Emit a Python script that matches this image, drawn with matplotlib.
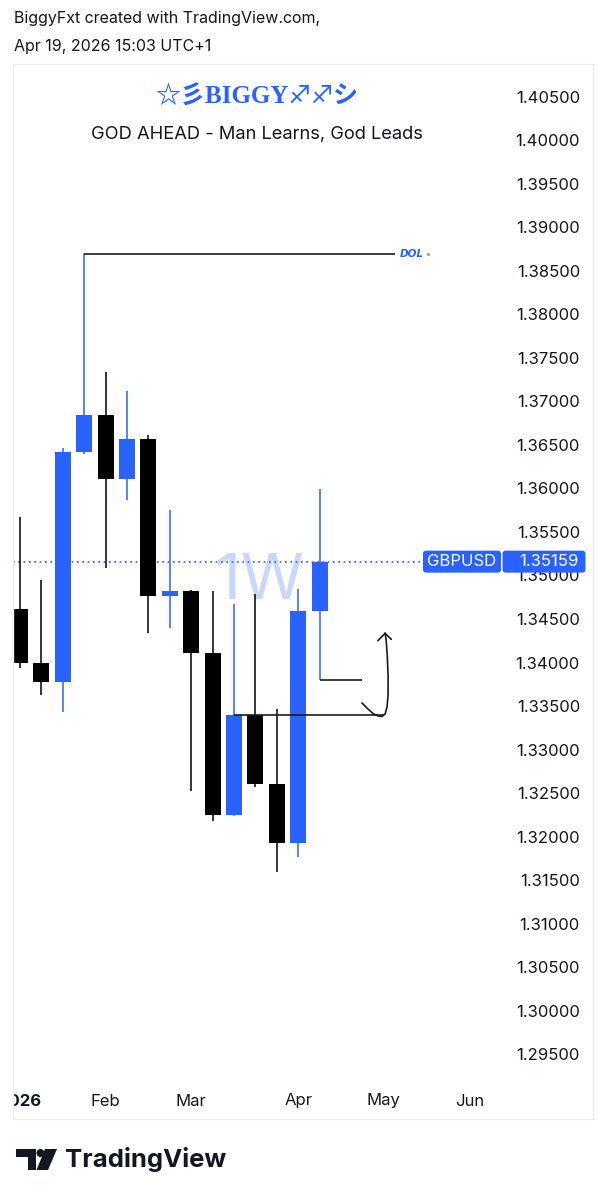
import matplotlib
matplotlib.use('Agg')
import matplotlib.pyplot as plt
import numpy as np
import pandas as pd
from matplotlib.patches import Rectangle, Circle, Polygon, FancyBboxPatch
from matplotlib.transforms import Affine2D, Bbox, TransformedBbox, blended_transform_factory

W, H, DPI = 606, 1200, 100

# GBPUSD weekly candles (week starting Monday)
week_start = pd.date_range('2026-01-05', periods=15, freq='7D')
opens = [1.34612, 1.33992, 1.33774, 1.36418, 1.36846, 1.36111, 1.36564, 1.34768,
         1.34825, 1.34107, 1.32246, 1.33398, 1.32602, 1.31925, 1.34596]
highs = [1.35675, 1.34948, 1.36460, 1.38692, 1.37333, 1.37122, 1.36617, 1.35752,
         1.34830, 1.34825, 1.34673, 1.34787, 1.33464, 1.34841, 1.35993]
lows = [1.33934, 1.33628, 1.33429, 1.36400, 1.35090, 1.35867, 1.34336, 1.34394,
        1.32529, 1.32184, 1.32240, 1.32568, 1.31592, 1.31764, 1.33800]
closes = [1.33992, 1.33774, 1.36415, 1.36846, 1.36111, 1.36567, 1.34768, 1.34825,
          1.34113, 1.32246, 1.33398, 1.32602, 1.31925, 1.34596, 1.35159]
last_price = 1.35159

# price scale
price_ticks = np.round(np.arange(1.295, 1.4051, 0.005), 3)

# drawings (bar index, price)
dol_level, dol_from, dol_to = 1.38692, 3, 17.5
level_a, level_a_from, level_a_to = 1.33398, 10, 17.0
level_b, level_b_from, level_b_to = 1.33800, 14, 16.0
arrow_x = [15.98, 16.26, 16.50, 16.73, 16.92, 17.06, 17.15, 17.20, 17.20, 17.16, 17.11, 17.06]
arrow_y = [1.33536, 1.33467, 1.33415, 1.33387, 1.33381, 1.33410, 1.33490, 1.33628,
           1.33857, 1.34087, 1.34259, 1.34340]
arrow_head_x = [16.72, 17.06, 17.35]
arrow_head_y = [1.34251, 1.34336, 1.34267]

BLUE = '#2962ff'
TXT = '#131722'
FONT = ['Inter', 'DejaVu Sans']

fig = plt.figure(figsize=(W / DPI, H / DPI), dpi=DPI)
fig.patch.set_facecolor('white')

# pixel transform with origin at top-left
pix = Affine2D().scale(1 / DPI, -1 / DPI).translate(0, H / DPI) + fig.dpi_scale_trans

# chart area
ax = fig.add_axes([13 / W, 1 - 1080 / H, (510 - 13) / W, (1080 - 64) / H])
ax.set_xlim(-0.327, 22.897)
ax.set_ylim(1.292071, 1.408732)
for s in ax.spines.values():
    s.set_visible(False)
ax.set_xticks([])

ax.yaxis.tick_right()
ax.set_yticks(price_ticks)
ax.set_yticklabels([f'{p:.5f}' for p in price_ticks])
ax.tick_params(axis='y', length=0, pad=50.4, labelsize=12, labelcolor=TXT)
for lab in ax.get_yticklabels():
    lab.set_ha('right')
    lab.set_fontfamily(FONT)

# watermark
ax.text(0.495, 0.49, '1W', transform=ax.transAxes, ha='center', va='center',
        fontsize=46, color='#c8d7fb', family=FONT, zorder=0)

# candles
idx = np.arange(len(opens))
o = np.array(opens); c = np.array(closes)
colors = [BLUE if cc >= oo else 'black' for oo, cc in zip(o, c)]
ax.vlines(idx, lows, highs, colors=colors, lw=1.1, zorder=2)
ax.bar(idx, np.abs(c - o), bottom=np.minimum(o, c), width=0.75, color=colors,
       linewidth=0, zorder=3)

# last price line
ax.axhline(last_price, xmin=0, xmax=(423 - 13) / (510 - 13), color=BLUE,
           lw=1.2, ls=(0, (1, 2.2)), zorder=1)

# drawings
ax.hlines(dol_level, dol_from, dol_to, color='#1c1c1c', lw=1.2, zorder=4)
ax.text(dol_to + 0.25, dol_level, 'DOL', color=BLUE, fontsize=7.5, fontweight='bold',
        fontstyle='italic', ha='left', va='center', family=['DejaVu Sans'])
ax.plot([dol_to + 1.55], [dol_level], marker='o', ms=1.2, color='#9a9a9a')
ax.hlines(level_a, level_a_from, level_a_to, color='#1c1c1c', lw=1.2, zorder=4)
ax.hlines(level_b, level_b_from, level_b_to, color='#1c1c1c', lw=1.2, zorder=4)
ax.plot(arrow_x, arrow_y, color='#1c1c1c', lw=1.2, zorder=4, solid_capstyle='round')
ax.plot(arrow_head_x, arrow_head_y, color='#1c1c1c', lw=1.2, zorder=4,
        solid_capstyle='round', solid_joinstyle='round')

# time axis labels
clip = TransformedBbox(Bbox([[13 / W, 0], [593 / W, 1]]), fig.transFigure)
xtr = blended_transform_factory(ax.transData, pix)
for i, d in enumerate(pd.date_range('2026-01-05', periods=23, freq='7D')):
    if i == 0:
        lab, bold = '2026', True
    elif d.month != (d - pd.Timedelta(days=7)).month:
        lab, bold = d.strftime('%b'), False
    else:
        continue
    t = ax.text(i, 1101, lab, transform=xtr, ha='center', va='center', fontsize=12,
                color=TXT, family=FONT, fontweight='bold' if bold else 'normal')
    t.set_clip_on(True)
    t.set_clip_box(clip)

# price label boxes
y_last = H - ax.transData.transform((0, last_price))[1]
fig.add_artist(FancyBboxPatch((423, y_last - 11), 78, 22, boxstyle='round,pad=0,rounding_size=3',
                              transform=pix, facecolor=BLUE, edgecolor='none'))
fig.add_artist(FancyBboxPatch((502.5, y_last - 11), 83, 22, boxstyle='round,pad=0,rounding_size=3',
                              transform=pix, facecolor=BLUE, edgecolor='none'))
fig.text(461.5, y_last, 'GBPUSD', transform=pix, ha='center', va='center', color='white',
         fontsize=12, family=FONT)
fig.text(579, y_last, f'{last_price:.5f}', transform=pix, ha='right', va='center',
         color='white', fontsize=12, family=FONT)

# frame
fig.add_artist(Rectangle((13, 64), 580, 1055, transform=pix, fill=False,
                         edgecolor='#ececec', lw=1))

# header and titles
fig.text(14, 19, 'BiggyFxt created with TradingView.com,', transform=pix, va='center',
         fontsize=11.5, color=TXT, family=FONT)
fig.text(14, 46, 'Apr 19, 2026 15:03 UTC+1', transform=pix, va='center',
         fontsize=11.5, color=TXT, family=FONT)
fig.text(257, 97, '☆彡BIGGY♐♐シ', transform=pix, ha='center', va='center', fontsize=18,
         fontweight='bold', color=BLUE,
         family=['Liberation Serif', 'Noto Sans CJK JP', 'DejaVu Sans'])
fig.text(257, 134, 'GOD AHEAD - Man Learns, God Leads', transform=pix, ha='center',
         va='center', fontsize=13.2, color=TXT, family=FONT)

# TradingView logo
fig.add_artist(Rectangle((16, 1149), 20, 8, transform=pix, color=TXT, lw=0))
fig.add_artist(Rectangle((28, 1149), 8, 21, transform=pix, color=TXT, lw=0))
fig.add_artist(Circle((40.5, 1153), 4, transform=pix, color=TXT, lw=0))
fig.add_artist(Polygon([(45, 1149), (57, 1149), (48, 1170), (36.5, 1170)], transform=pix,
                       color=TXT, lw=0))
fig.text(65, 1159, 'TradingView', transform=pix, va='center', fontsize=18.5,
         fontweight='bold', color=TXT, family=FONT)

fig.savefig('out.png', dpi=DPI)
